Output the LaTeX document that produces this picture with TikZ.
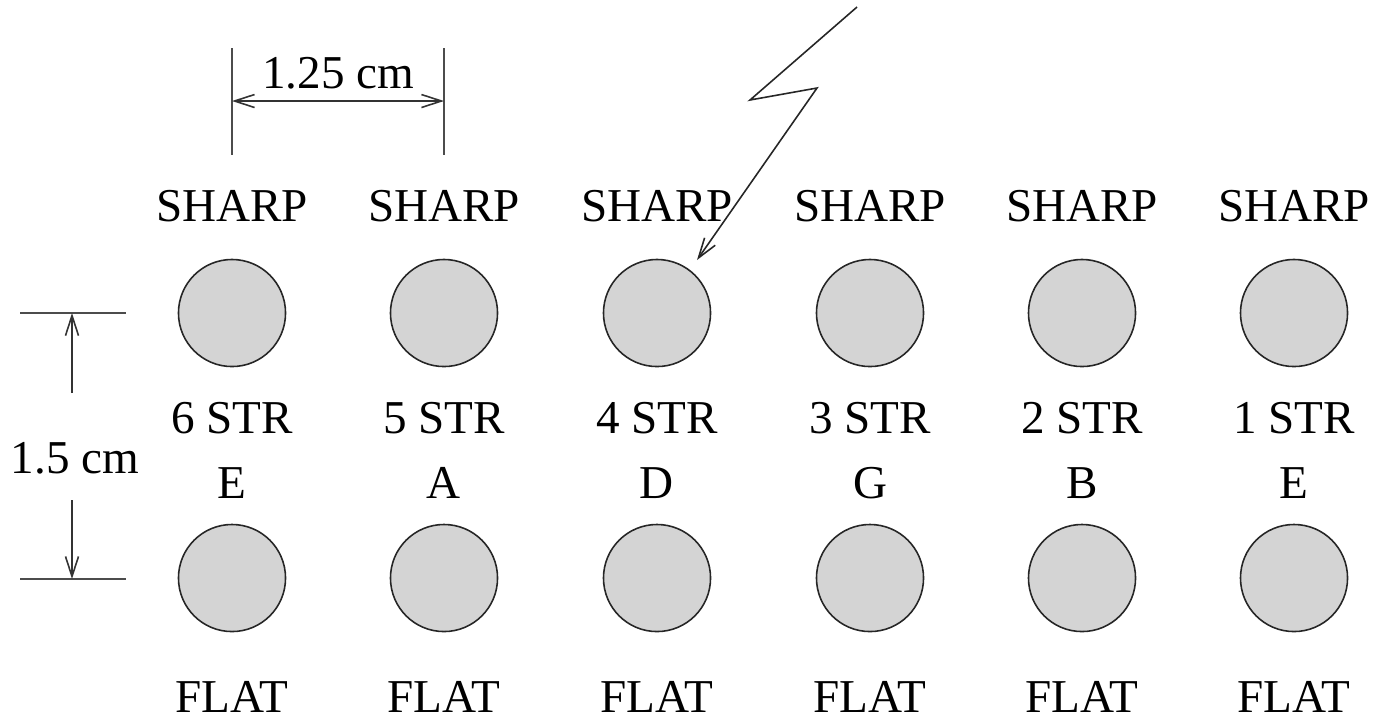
\documentclass[tikz,border=0pt]{standalone}
\usepackage{fontspec}
\setmainfont{Liberation Serif}
\usetikzlibrary{arrows.meta}
\tikzset{
  hole/.style={circle, draw=black!85, line width=0.45pt, fill=black!17, minimum size=1.07cm, inner sep=0pt},
  lbl/.style={anchor=base, inner sep=0pt, font=\fontsize{13.4}{16}\selectfont},
  dimline/.style={draw=black!70, line width=0.45pt},
  dimarrow/.style={draw=black!80, line width=0.45pt, -{Straight Barb[length=0.2cm,width=0.13cm]}},
  bolt/.style={draw=black!85, line width=0.45pt, -{Straight Barb[length=0.2cm,width=0.13cm]}}
}
\begin{document}
\begin{tikzpicture}[x=0.01cm,y=-0.01cm]
\useasboundingbox (0,0) rectangle (1380,717);
% columns
\foreach \i/\x/\s/\n in {1/232/6/E,2/444/5/A,3/657/4/D,4/870/3/G,5/1082/2/B,6/1294/1/E}{
  \node[hole] (s\i) at (\x,313) {};
  \node[hole] (f\i) at (\x,578) {};
  \node[lbl] (sh\i) at (\x,221) {SHARP};
  \node[lbl] (st\i) at (\x,433) {\s{} STR};
  \node[lbl] (nt\i) at (\x,498) {\n};
  \node[lbl] (fl\i) at (\x,712) {FLAT};
}
% 1.25 cm dimension
\coordinate (a1) at (232,48);
\coordinate (a2) at (232,155);
\coordinate (b1) at (444,48);
\coordinate (b2) at (444,155);
\coordinate (ah1) at (232,101);
\coordinate (ah2) at (444,101);
\draw[dimline] (a1) -- (a2);
\draw[dimline] (b1) -- (b2);
\draw[dimarrow, {Straight Barb[length=0.2cm,width=0.13cm]}-{Straight Barb[length=0.2cm,width=0.13cm]}] (ah1) -- (ah2);
\node[lbl] (d125) at (338,88) {1.25 cm};
% 1.5 cm dimension
\coordinate (t1) at (20,313);
\coordinate (t2) at (126,313);
\coordinate (u1) at (20,579);
\coordinate (u2) at (126,579);
\coordinate (va) at (72,393);
\coordinate (vat) at (72,313);
\coordinate (vb) at (72,500);
\coordinate (vbt) at (72,579);
\draw[dimline] (t1) -- (t2);
\draw[dimline] (u1) -- (u2);
\draw[dimarrow] (va) -- (vat);
\draw[dimarrow] (vb) -- (vbt);
\node[lbl] (d15) at (75,473) {1.5 cm};
% lightning bolt
\coordinate (z0) at (857,7);
\coordinate (z1) at (750,100);
\coordinate (z2) at (817,88);
\coordinate (z3) at (697,260);
\draw[bolt] (z0) -- (z1) -- (z2) -- (z3);
\end{tikzpicture}
\end{document}
